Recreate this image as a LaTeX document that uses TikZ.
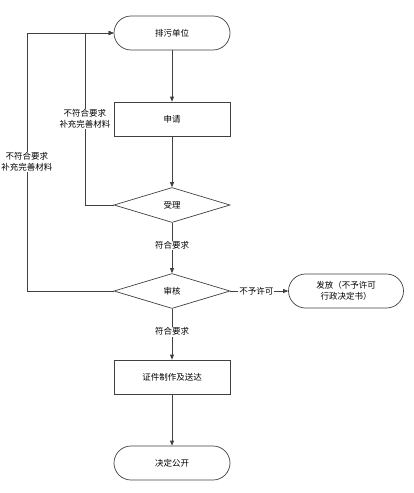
\documentclass[tikz,border=0pt]{standalone}
\usepackage{fontspec}
\setmainfont{Noto Sans CJK SC}
\usetikzlibrary{shapes.geometric,arrows.meta}
\begin{document}
\begin{tikzpicture}[x=1pt,y=-1pt,
  font=\fontsize{8.5}{11}\selectfont,
  ln/.style={draw=black!75, line width=0.7pt},
  arr/.style={ln, -{Triangle[length=5pt,width=4pt]}},
  term/.style={ln, rectangle, rounded corners=17pt, minimum width=116pt, minimum height=34pt, inner sep=0pt, align=center},
  proc/.style={ln, rectangle, minimum width=116pt, minimum height=34pt, inner sep=0pt, align=center},
  dec/.style={ln, diamond, aspect=3.4, minimum width=116pt, minimum height=35pt, inner sep=0pt},
  lbl/.style={fill=white, inner sep=1pt, align=center}]
\useasboundingbox (0,0) rectangle (413,493);
\node[term] (start) at (172,33) {排污单位};
\node[proc] (apply) at (172,119) {申请};
\node[dec] (accept) at (172,205) {受理};
\node[dec] (review) at (172,291) {审核};
\node[term, minimum width=115pt] (deny) at (346,291) {发放（不予许可\\行政决定书）};
\node[proc] (make) at (172,377) {证件制作及送达};
\node[term] (pub) at (172,463) {决定公开};
\coordinate (c1) at (85,205);
\coordinate (c2) at (85,33);
\coordinate (d1) at (27,291);
\coordinate (d2) at (27,33);
\draw[arr] (start) -- (apply);
\draw[arr] (apply) -- (accept);
\draw[arr] (accept) -- node[lbl, pos=0.45] (l1) {符合要求} (review);
\draw[arr] (review) -- node[lbl, pos=0.45] (l2) {符合要求} (make);
\draw[arr] (make) -- (pub);
\draw[arr] (review) -- node[lbl, pos=0.45] (l3) {不予许可} (deny);
\draw[arr] (accept.west) -- (c1) -- node[lbl, pos=0.5] (l4) {不符合要求\\补充完善材料} (c2) -- (start.west);
\draw[arr] (review.west) -- (d1) -- node[lbl, pos=0.5] (l5) {不符合要求\\补充完善材料} (d2) -- (start.west);
\end{tikzpicture}
\end{document}
